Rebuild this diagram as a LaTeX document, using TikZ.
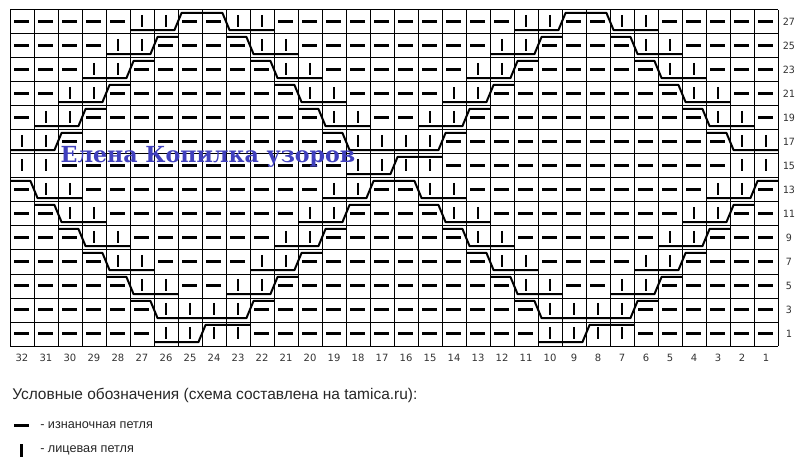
\documentclass[tikz,border=0pt]{standalone}
\usepackage{fontspec}
\setmainfont{Liberation Sans}
\newfontfamily\numfont{DejaVu Sans}
\newfontfamily\rownumfont{DejaVu Sans Mono}
\newfontfamily\markfont{DejaVu Serif}
\usepackage{tikz}
\usetikzlibrary{positioning}
\usepackage{xcolor}
\definecolor{markblue}{RGB}{64,64,190}

\newcommand\cabup[3]{\draw[cable] (#1,#2+0.84) -- ++(1.85,0) -- ++(0.3,-0.72) -- (#1+2+#3,#2+0.12);}
\newcommand\cabdown[2]{\draw[cable] (#1,#2+0.12) -- ++(0.85,0) -- ++(0.3,0.72) -- (#1+3,#2+0.84);}

\begin{document}
\begin{tikzpicture}[x=18pt, y=-18pt,
    gridline/.style={line width=0.75pt},
    purl/.style={line width=2pt},
    knit/.style={line width=2pt},
    cable/.style={line width=1.5pt, line join=round}]
\useasboundingbox (-10/24,-10/24) rectangle (802/24,463/24);

\foreach \j in {0,...,32} \draw[gridline] (\j,0) -- (\j,14);
\foreach \i in {0,...,14} \draw[gridline] (0,\i) -- (32,\i);

\foreach \i/\a in {0/5,1/4,2/3,3/2,4/1,5/0,6/0,7/1,8/2,9/3,10/4,11/5,12/6,13/6}
  \foreach \j in {0,...,31} {
    \pgfmathtruncatemacro\p{mod(\j,16)}
    \pgfmathtruncatemacro\k{(\p==\a)||(\p==\a+1)||(\p==14-\a)||(\p==15-\a)}
    \ifnum\k=1
      \draw[knit] (\j+0.5,\i+0.2) -- (\j+0.5,\i+0.72);
    \else
      \draw[purl] (\j+0.17,\i+0.49) -- (\j+0.8,\i+0.49);
    \fi
  }

\foreach \i/\a in {0/5,1/4,2/3,3/2,4/1,5/0}
  \foreach \o in {0,16} {\cabup{\o+\a}{\i}{1} \cabdown{\o+13-\a}{\i}}
\foreach \i/\a in {7/1,8/2,9/3,10/4,11/5,12/6}
  \foreach \o in {0,16} {\cabdown{\o+\a-1}{\i} \cabup{\o+14-\a}{\i}{1}}
\cabup{14}{6}{2}
\cabup{6}{13}{2}
\cabup{22}{13}{2}

\foreach \j [evaluate=\j as \c using int(32-\j)] in {0,...,31}
  \node[font=\numfont\fontsize{7.5}{9}\selectfont, text=black!80] (col-\c) at (\j+0.5,14.5) {\c};
\foreach \i [evaluate=\i as \r using int(27-2*\i)] in {0,...,13}
  \node[font=\rownumfont\fontsize{7.5}{9}\selectfont, text=black!80] (row-\r) at (32.45,\i+0.5) {\r};

\node[font=\markfont\bfseries\fontsize{16.6}{19}\selectfont, text=markblue] (watermark) at (8.25,6.12) {Елена Копилка узоров};

\node[font=\fontsize{11.6}{13}\selectfont, text=black!85, anchor=west, inner sep=0pt] (legend-title) at (0.083,16.04) {Условные обозначения (схема составлена на tamica.ru):};
\node[font=\fontsize{9.5}{11}\selectfont, text=black!85, anchor=west, inner sep=0pt] (purl-label) at (1.25,17.29) {- изнаночная петля};
\node[font=\fontsize{9.5}{11}\selectfont, text=black!85, anchor=west, inner sep=0pt] (knit-label) at (1.25,18.33) {- лицевая петля};
\draw[purl] (0.167,17.32) -- (0.79,17.32);
\draw[knit] (0.49,18.1) -- (0.49,18.62);
\end{tikzpicture}
\end{document}
